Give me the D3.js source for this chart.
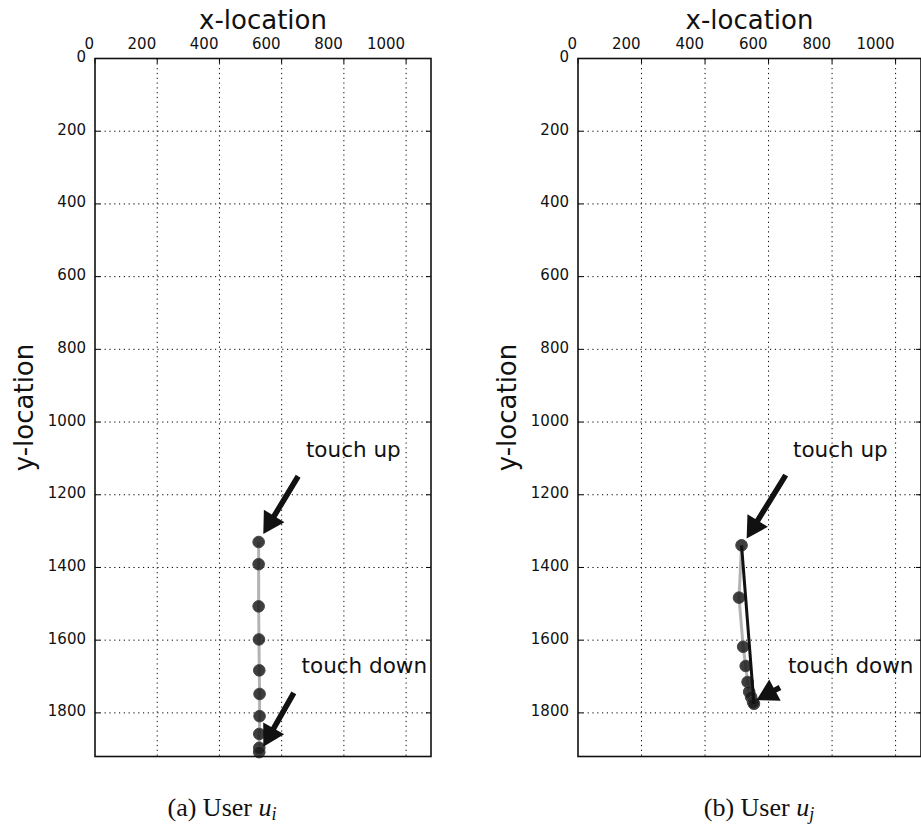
<!DOCTYPE html>
<html>
<head>
<meta charset="utf-8">
<script src="https://cdn.jsdelivr.net/npm/d3@7"></script>
<style>
  body { margin: 0; background: #fff; }
  svg { display: block; }
  .tick-label { font-family: "DejaVu Sans", sans-serif; font-size: 15px; fill: #111; }
  .axis-title { font-family: "DejaVu Sans", sans-serif; font-size: 26px; fill: #111; }
  .note { font-family: "DejaVu Sans", sans-serif; font-size: 21.5px; fill: #111; }
  .caption { font-family: "Liberation Serif", serif; font-size: 26px; fill: #111; }
</style>
</head>
<body>
<div id="chart"></div>
<script>
const xTicks = [0, 200, 400, 600, 800, 1000];
const yTicks = [0, 200, 400, 600, 800, 1000, 1200, 1400, 1600, 1800];

// user u_i trace (screen px)
const userIx = [526, 526, 526, 527, 528, 529, 529, 528, 528, 528];
const userIy = [1330, 1391, 1507, 1598, 1683, 1748, 1809, 1858, 1896, 1908];

// user u_j trace
const userJx = [515, 507, 520, 528, 534, 539, 545, 551, 554];
const userJy = [1339, 1483, 1618, 1671, 1715, 1742, 1756, 1770, 1775];

// arrows: [tailX, tailY, tipX, tipY]
const arrowsI = [[653, 1149, 541, 1308], [639, 1745, 541, 1893]];
const arrowsJ = [[654, 1146, 531, 1320], [636, 1730, 562, 1765]];
const noteText = ["touch up", "touch down"];
const notesI = [[678, 1095], [664, 1690]];
const notesJ = [[677, 1095], [661, 1690]];

const captions = ["(a) User ", "(b) User "];
const subs = ["i", "j"];

const width = 921, height = 832;
const svg = d3.select("#chart").append("svg")
  .attr("width", width)
  .attr("height", height);

const panels = [
  { x0: 95, x1: 431, xs: userIx, ys: userIy, arrows: arrowsI, notes: notesI, direct: false, capX: 222 },
  { x0: 578, x1: 921, xs: userJx, ys: userJy, arrows: arrowsJ, notes: notesJ, direct: true, capX: 759 }
];
const plotTop = 58.5, plotBottom = 756.5;

panels.forEach((p, pi) => {
  const x = d3.scaleLinear().domain([0, 1080]).range([p.x0, p.x1]);
  const y = d3.scaleLinear().domain([0, 1920]).range([plotTop, plotBottom]);
  const g = svg.append("g");

  // grid
  g.selectAll(".gx").data(xTicks.slice(1)).enter().append("line")
    .attr("x1", d => x(d)).attr("x2", d => x(d))
    .attr("y1", plotTop).attr("y2", plotBottom)
    .attr("stroke", "#000").attr("stroke-width", 1).attr("stroke-dasharray", "1.2,3.6");
  g.selectAll(".gy").data(yTicks.slice(1)).enter().append("line")
    .attr("x1", p.x0).attr("x2", p.x1)
    .attr("y1", d => y(d)).attr("y2", d => y(d))
    .attr("stroke", "#000").attr("stroke-width", 1).attr("stroke-dasharray", "1.2,3.6");

  // inward ticks
  g.selectAll(".tx").data(xTicks).enter().append("line")
    .attr("x1", d => x(d)).attr("x2", d => x(d))
    .attr("y1", plotTop).attr("y2", plotTop + 5)
    .attr("stroke", "#000").attr("stroke-width", 1);
  g.selectAll(".tyl").data(yTicks).enter().append("line")
    .attr("x1", p.x0).attr("x2", p.x0 + 5)
    .attr("y1", d => y(d)).attr("y2", d => y(d))
    .attr("stroke", "#000").attr("stroke-width", 1);
  g.selectAll(".tyr").data(yTicks).enter().append("line")
    .attr("x1", p.x1 - 5).attr("x2", p.x1)
    .attr("y1", d => y(d)).attr("y2", d => y(d))
    .attr("stroke", "#000").attr("stroke-width", 1);

  // tick labels
  g.selectAll(".lx").data(xTicks).enter().append("text")
    .attr("class", "tick-label")
    .attr("x", d => x(d) - 1).attr("y", 49)
    .attr("text-anchor", "end")
    .text(d => d);
  g.selectAll(".ly").data(yTicks).enter().append("text")
    .attr("class", "tick-label")
    .attr("x", p.x0 - 9).attr("y", d => y(d) - 1)
    .attr("text-anchor", "end")
    .attr("dominant-baseline", "middle")
    .text(d => d);

  // titles
  g.append("text").attr("class", "axis-title")
    .attr("x", (p.x0 + p.x1) / 2).attr("y", 29)
    .attr("text-anchor", "middle")
    .text("x-location");
  g.append("text").attr("class", "axis-title")
    .attr("transform", `translate(${p.x0 - 62},${(plotTop + plotBottom) / 2}) rotate(-90)`)
    .attr("text-anchor", "middle")
    .text("y-location");

  // trace
  const pts = p.xs.map((v, i) => [v, p.ys[i]]);
  const line = d3.line().x(d => x(d[0])).y(d => y(d[1]));
  g.append("path").datum(pts)
    .attr("d", line)
    .attr("fill", "none")
    .attr("stroke", "#b3b3b3")
    .attr("stroke-width", 3);

  g.selectAll(".pt").data(pts).enter().append("circle")
    .attr("cx", d => x(d[0])).attr("cy", d => y(d[1]))
    .attr("r", 5.8)
    .attr("fill", "#1c1c1c").attr("fill-opacity", 0.85)
    .attr("stroke", "#444").attr("stroke-width", 1);

  if (p.direct) {
    g.append("path").datum([pts[0], pts[pts.length - 1]])
      .attr("d", line)
      .attr("fill", "none")
      .attr("stroke", "#111")
      .attr("stroke-width", 3);
  }

  // arrows
  p.arrows.forEach(a => {
    const tx = x(a[0]), ty = y(a[1]), hx = x(a[2]), hy = y(a[3]);
    const dx = hx - tx, dy = hy - ty;
    const len = Math.hypot(dx, dy);
    const ux = dx / len, uy = dy / len, nx = -uy, ny = ux;
    const hl = 21, hw = 12, sw = 2.8;
    const bx = hx - ux * hl, by = hy - uy * hl;
    const poly = [
      [tx + nx * sw, ty + ny * sw],
      [bx + nx * sw, by + ny * sw],
      [bx + nx * hw, by + ny * hw],
      [hx, hy],
      [bx - nx * hw, by - ny * hw],
      [bx - nx * sw, by - ny * sw],
      [tx - nx * sw, ty - ny * sw]
    ];
    g.append("polygon")
      .attr("points", poly.map(q => q.join(",")).join(" "))
      .attr("fill", "#111");
  });

  p.notes.forEach((n, i) => {
    g.append("text").attr("class", "note")
      .attr("x", x(n[0])).attr("y", y(n[1]))
      .text(noteText[i]);
  });

  // frame
  g.append("rect")
    .attr("x", p.x0).attr("y", plotTop)
    .attr("width", p.x1 - p.x0).attr("height", plotBottom - plotTop)
    .attr("fill", "none").attr("stroke", "#111").attr("stroke-width", 1.6);

  // caption
  const cap = svg.append("text").attr("class", "caption")
    .attr("x", p.capX).attr("y", 816)
    .attr("text-anchor", "middle");
  cap.append("tspan").text(captions[pi]);
  cap.append("tspan").attr("font-style", "italic").text("u");
  cap.append("tspan").attr("font-style", "italic").attr("font-size", "18px")
    .attr("dy", 4).text(subs[pi]);
});
</script>
</body>
</html>
